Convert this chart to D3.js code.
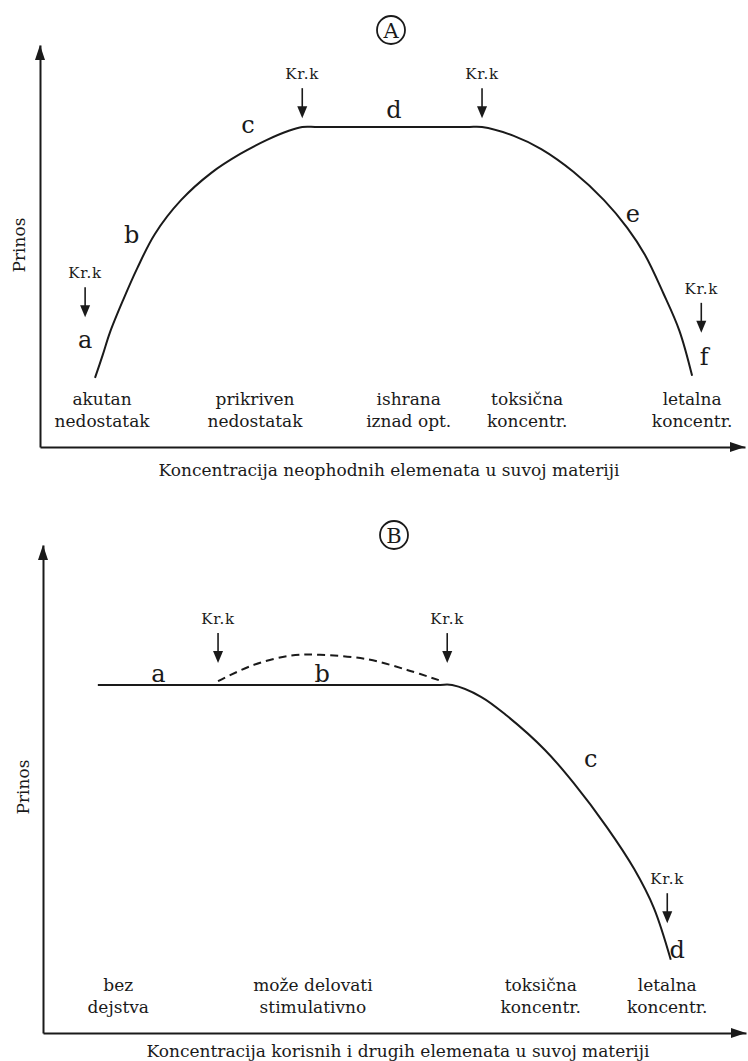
<!DOCTYPE html>
<html>
<head>
<meta charset="utf-8">
<script src="https://cdn.jsdelivr.net/npm/d3@7"></script>
<style>
    body { margin: 0; background: #fff; }
    svg text { font-family: "DejaVu Serif", serif; fill: #1a1a1a; }
</style>
</head>
<body>
<div id="chart"></div>
<script>
// curve A: yield vs concentration of essential elements (arbitrary units 0-100)
var curveA = [
    {x: 7.8, y: 17.2}, {x: 8.9, y: 22.9}, {x: 9.9, y: 28.4}, {x: 11.8, y: 36.6},
    {x: 13.8, y: 44.5}, {x: 16.3, y: 53.0}, {x: 20.0, y: 61.4}, {x: 24.3, y: 68.2},
    {x: 28.4, y: 72.9}, {x: 32.2, y: 76.4}, {x: 35.2, y: 78.6}, {x: 37.2, y: 79.6},
    {x: 39.5, y: 79.6}, {x: 60.5, y: 79.6},
    {x: 62.7, y: 79.6}, {x: 67.2, y: 77.4}, {x: 71.1, y: 74.1}, {x: 75.7, y: 68.4},
    {x: 80.0, y: 61.4}, {x: 83.3, y: 54.5}, {x: 85.8, y: 47.8}, {x: 88.4, y: 38.3},
    {x: 90.7, y: 28.9}, {x: 92.5, y: 17.7}
];
// curve B: useful and other elements
var curveB = [
    {x: 7.8, y: 71.3}, {x: 10.0, y: 71.3}, {x: 56.0, y: 71.3}, {x: 58.2, y: 71.3},
    {x: 62.3, y: 68.9}, {x: 66.0, y: 65.0}, {x: 71.4, y: 58.0}, {x: 75.5, y: 51.2},
    {x: 80.2, y: 42.2}, {x: 84.1, y: 33.6}, {x: 86.9, y: 25.6}, {x: 89.3, y: 15.0}
];
// possible stimulation (dashed)
var dashedB = [
    {x: 24.9, y: 72.1}, {x: 29.9, y: 75.4}, {x: 35.1, y: 77.3}, {x: 39.4, y: 77.5},
    {x: 46.1, y: 76.6}, {x: 51.8, y: 74.4}, {x: 56.3, y: 72.3}
];

// critical concentrations (Kr.k) - arrow tips
var critA = [{x: 6.4, y: 32.3}, {x: 37.2, y: 81.8}, {x: 62.7, y: 81.8}, {x: 93.8, y: 28.4}];
var critB = [{x: 24.9, y: 75.8}, {x: 57.5, y: 75.8}, {x: 88.8, y: 22.5}];

// section letters
var lettersA = [
    {t: 'a', x: 6.4, y: 24.6}, {t: 'b', x: 13.0, y: 50.7}, {t: 'c', x: 29.5, y: 78.1},
    {t: 'd', x: 50.2, y: 81.8}, {t: 'e', x: 84.1, y: 56.0}, {t: 'f', x: 94.2, y: 20.4}
];
var lettersB = [
    {t: 'a', x: 16.4, y: 71.9}, {t: 'b', x: 39.7, y: 71.9},
    {t: 'c', x: 77.9, y: 54.5}, {t: 'd', x: 90.2, y: 15.4}
];

// zone names along the x axis
var zonesA = [
    {x: 8.8, lines: ['akutan', 'nedostatak']},
    {x: 30.5, lines: ['prikriven', 'nedostatak']},
    {x: 52.3, lines: ['ishrana', 'iznad opt.']},
    {x: 69.1, lines: ['toksična', 'koncentr.']},
    {x: 92.5, lines: ['letalna', 'koncentr.']}
];
var zonesB = [
    {x: 10.7, lines: ['bez', 'dejstva']},
    {x: 38.4, lines: ['može delovati', 'stimulativno']},
    {x: 70.8, lines: ['toksična', 'koncentr.']},
    {x: 88.8, lines: ['letalna', 'koncentr.']}
];

var panels = [
    {
        tag: 'A', left: 40, right: 745, top: 45, bottom: 447,
        circle: [391, 30], yTitle: [25, 245], xTitle: [389, 476],
        xTitleText: 'Koncentracija neophodnih elemenata u suvoj materiji',
        curves: [{data: curveA, dashed: false}],
        crit: critA, letters: lettersA, zones: zonesA
    },
    {
        tag: 'B', left: 43, right: 746, top: 545, bottom: 1033,
        circle: [394, 535], yTitle: [29, 787], xTitle: [398, 1057],
        xTitleText: 'Koncentracija korisnih i drugih elemenata u suvoj materiji',
        curves: [{data: curveB, dashed: false}, {data: dashedB, dashed: true}],
        crit: critB, letters: lettersB, zones: zonesB
    }
];

var ink = '#1a1a1a';

var svg = d3.select('#chart').append('svg')
    .attr('width', 748)
    .attr('height', 1061);

function drawPanel(svg, p) {
    var g = svg.append('g').attr('class', 'panel-' + p.tag);

    var x = d3.scaleLinear().domain([0, 100]).range([p.left, p.right]);
    var y = d3.scaleLinear().domain([0, 100]).range([p.bottom, p.top]);

    // axes without ticks, just the domain line
    var xAxis = d3.axisBottom(x).ticks(0).tickSizeOuter(0);
    var yAxis = d3.axisLeft(y).ticks(0).tickSizeOuter(0);
    g.append('g').attr('transform', 'translate(0,' + p.bottom + ')').call(xAxis);
    g.append('g').attr('transform', 'translate(' + p.left + ',0)').call(yAxis);
    g.selectAll('.domain').attr('stroke', ink).attr('stroke-width', 2);

    // arrow heads on axes
    var tipX = x(100), tipY = y(100);
    g.append('path')
        .attr('d', 'M' + tipX + ',' + p.bottom + 'L' + (tipX - 15) + ',' + (p.bottom - 5) + 'L' + (tipX - 15) + ',' + (p.bottom + 5) + 'Z')
        .attr('fill', ink);
    g.append('path')
        .attr('d', 'M' + p.left + ',' + tipY + 'L' + (p.left - 5) + ',' + (tipY + 15) + 'L' + (p.left + 5) + ',' + (tipY + 15) + 'Z')
        .attr('fill', ink);

    // curves (centripetal catmull-rom keeps the steep parts smooth)
    var line = d3.line()
        .x(function(d) { return x(d.x); })
        .y(function(d) { return y(d.y); })
        .curve(d3.curveCatmullRom.alpha(0.5));

    p.curves.forEach(function(c) {
        g.append('path')
            .datum(c.data)
            .attr('d', line)
            .attr('fill', 'none')
            .attr('stroke', ink)
            .attr('stroke-width', 2)
            .attr('stroke-dasharray', c.dashed ? '8,5' : null);
    });

    // Kr.k arrows
    var crit = g.selectAll('.crit').data(p.crit).enter().append('g').attr('class', 'crit');
    crit.append('line')
        .attr('x1', function(d) { return x(d.x); })
        .attr('x2', function(d) { return x(d.x); })
        .attr('y1', function(d) { return y(d.y) - 30; })
        .attr('y2', function(d) { return y(d.y) - 8; })
        .attr('stroke', ink)
        .attr('stroke-width', 1.6);
    crit.append('path')
        .attr('d', function(d) {
            var cx = x(d.x), ty = y(d.y);
            return 'M' + cx + ',' + ty + 'L' + (cx - 5) + ',' + (ty - 12) + 'L' + (cx + 5) + ',' + (ty - 12) + 'Z';
        })
        .attr('fill', ink);
    crit.append('text')
        .attr('x', function(d) { return x(d.x); })
        .attr('y', function(d) { return y(d.y) - 39; })
        .attr('text-anchor', 'middle')
        .attr('font-size', 15)
        .attr('letter-spacing', 0.8)
        .text('Kr.k');

    // letters a..f
    g.selectAll('.letter').data(p.letters).enter().append('text')
        .attr('class', 'letter')
        .attr('x', function(d) { return x(d.x); })
        .attr('y', function(d) { return y(d.y); })
        .attr('text-anchor', 'middle')
        .attr('font-size', 24)
        .text(function(d) { return d.t; });

    // zone names, two lines each
    var zones = g.selectAll('.zone').data(p.zones).enter().append('text')
        .attr('class', 'zone')
        .attr('text-anchor', 'middle')
        .attr('font-size', 17);
    zones.append('tspan')
        .attr('x', function(d) { return x(d.x); })
        .attr('y', p.bottom - 42)
        .text(function(d) { return d.lines[0]; });
    zones.append('tspan')
        .attr('x', function(d) { return x(d.x); })
        .attr('y', p.bottom - 20)
        .text(function(d) { return d.lines[1]; });

    // axis titles
    g.append('text')
        .attr('transform', 'translate(' + p.yTitle[0] + ',' + p.yTitle[1] + ')rotate(-90)')
        .attr('text-anchor', 'middle')
        .attr('font-size', 17)
        .text('Prinos');
    g.append('text')
        .attr('x', p.xTitle[0])
        .attr('y', p.xTitle[1])
        .attr('text-anchor', 'middle')
        .attr('font-size', 17)
        .text(p.xTitleText);

    // circled panel tag
    g.append('circle')
        .attr('cx', p.circle[0])
        .attr('cy', p.circle[1])
        .attr('r', 14)
        .attr('fill', 'none')
        .attr('stroke', ink)
        .attr('stroke-width', 1.8);
    g.append('text')
        .attr('x', p.circle[0])
        .attr('y', p.circle[1] + 7.5)
        .attr('text-anchor', 'middle')
        .attr('font-size', 21)
        .text(p.tag);
}

panels.forEach(function(p) { drawPanel(svg, p); });
</script>
</body>
</html>
